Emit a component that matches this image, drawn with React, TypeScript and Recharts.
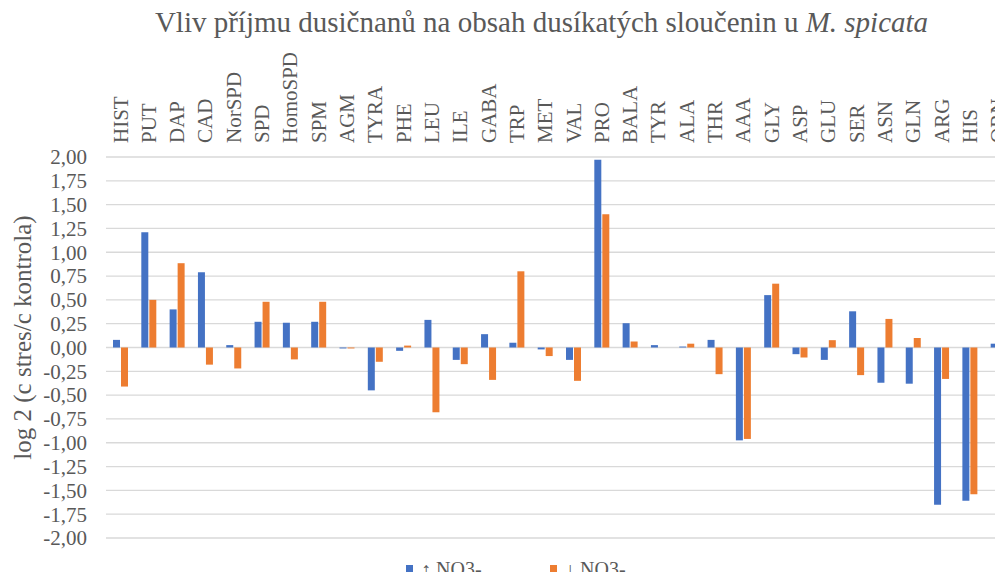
import { BarChart, Bar, XAxis, YAxis, CartesianGrid } from 'recharts';

const categories = [
  'HIST', 'PUT', 'DAP', 'CAD', 'NorSPD', 'SPD', 'HomoSPD', 'SPM', 'AGM', 'TYRA', 'PHE',
  'LEU', 'ILE', 'GABA', 'TRP', 'MET', 'VAL', 'PRO', 'BALA', 'TYR', 'ALA', 'THR',
  'AAA', 'GLY', 'ASP', 'GLU', 'SER', 'ASN', 'GLN', 'ARG', 'HIS', 'ORN',
];

const upNO3 = [
  0.08, 1.21, 0.4, 0.79, 0.025, 0.27, 0.26, 0.27, -0.01, -0.45, -0.035,
  0.29, -0.13, 0.14, 0.05, -0.02, -0.13, 1.97, 0.255, 0.025, 0.01, 0.08,
  -0.975, 0.55, -0.07, -0.13, 0.38, -0.37, -0.38, -1.65, -1.61, 0.04,
];

const downNO3 = [
  -0.41, 0.5, 0.885, -0.18, -0.22, 0.48, -0.125, 0.48, -0.01, -0.15, 0.02,
  -0.68, -0.175, -0.34, 0.8, -0.09, -0.35, 1.4, 0.063, 0.0, 0.04, -0.28,
  -0.96, 0.67, -0.105, 0.077, -0.29, 0.3, 0.1, -0.33, -1.54, -0.05,
];

const yTicks = [-2, -1.75, -1.5, -1.25, -1, -0.75, -0.5, -0.25, 0, 0.25, 0.5, 0.75, 1, 1.25, 1.5, 1.75, 2];

const data = categories.map((c, i) => ({ name: c, up: upNO3[i], down: downNO3[i] }));

const font = '"Times New Roman", "Liberation Serif", "DejaVu Serif", serif';
const grey = '#595959';
const blue = '#4472C4';
const orange = '#ED7D31';

const CatTick = ({ x, payload }: any) => (
  <text
    x={x}
    y={143}
    transform={`rotate(-90, ${x}, 143)`}
    dy="0.35em"
    textAnchor="start"
    style={{ fontFamily: font }}
    fontSize={21}
    fill={grey}
  >
    {payload.value}
  </text>
);

const ValTick = ({ x, y, payload }: any) => (
  <text x={x} y={y} dy="0.35em" textAnchor="end" style={{ fontFamily: font }} fontSize={21} fill={grey}>
    {payload.value.toFixed(2).replace('.', ',')}
  </text>
);

const AxisTitle = ({ viewBox }: any) => {
  const cx = 22;
  const cy = viewBox.y + viewBox.height / 2 - 10;
  return (
    <text
      x={cx}
      y={cy}
      transform={`rotate(-90, ${cx}, ${cy})`}
      dy="0.35em"
      textAnchor="middle"
      style={{ fontFamily: font }}
      fontSize={25}
      fill={grey}
    >
      log 2 (c stres/c kontrola)
    </text>
  );
};

const legendText = { position: 'absolute' as const, top: 559, fontFamily: font, fontSize: 20, lineHeight: '20px', color: grey, whiteSpace: 'nowrap' as const };
const legendSwatch = { position: 'absolute' as const, top: 565, width: 7, height: 7 };

export default function App() {
  return (
    <div style={{ position: 'relative', margin: -8, width: 1003, height: 580, overflow: 'hidden', background: '#fff' }}>
      <div
        style={{
          position: 'absolute',
          top: 8,
          left: 0,
          width: 1083,
          textAlign: 'center',
          fontFamily: font,
          fontSize: 29,
          lineHeight: '29px',
          color: grey,
          whiteSpace: 'nowrap',
        }}
      >
        Vliv příjmu dusičnanů na obsah dusíkatých sloučenin u <i>M. spicata</i>
      </div>
      <BarChart
        width={1012}
        height={580}
        data={data}
        margin={{ top: 0, right: 0, left: 0, bottom: 42 }}
        barSize={7}
        barGap={1}
      >
        <CartesianGrid vertical={false} stroke="#d9d9d9" strokeWidth={1.3} />
        <XAxis
          dataKey="name"
          orientation="top"
          height={157}
          interval={0}
          axisLine={false}
          tickLine={false}
          tick={<CatTick />}
        />
        <YAxis
          width={106}
          domain={[-2, 2]}
          ticks={yTicks}
          interval={0}
          axisLine={false}
          tickLine={false}
          tickSize={0}
          tickMargin={19}
          tick={<ValTick />}
          label={<AxisTitle />}
        />
        <Bar dataKey="up" name="↑ NO3-" fill={blue} isAnimationActive={false} />
        <Bar dataKey="down" name="↓ NO3-" fill={orange} isAnimationActive={false} />
      </BarChart>
      <span style={{ ...legendSwatch, left: 406, background: blue }} />
      <span style={{ ...legendText, left: 421 }}>↑ NO3-</span>
      <span style={{ ...legendSwatch, left: 550, background: orange }} />
      <span style={{ ...legendText, left: 565 }}>↓ NO3-</span>
    </div>
  );
}
